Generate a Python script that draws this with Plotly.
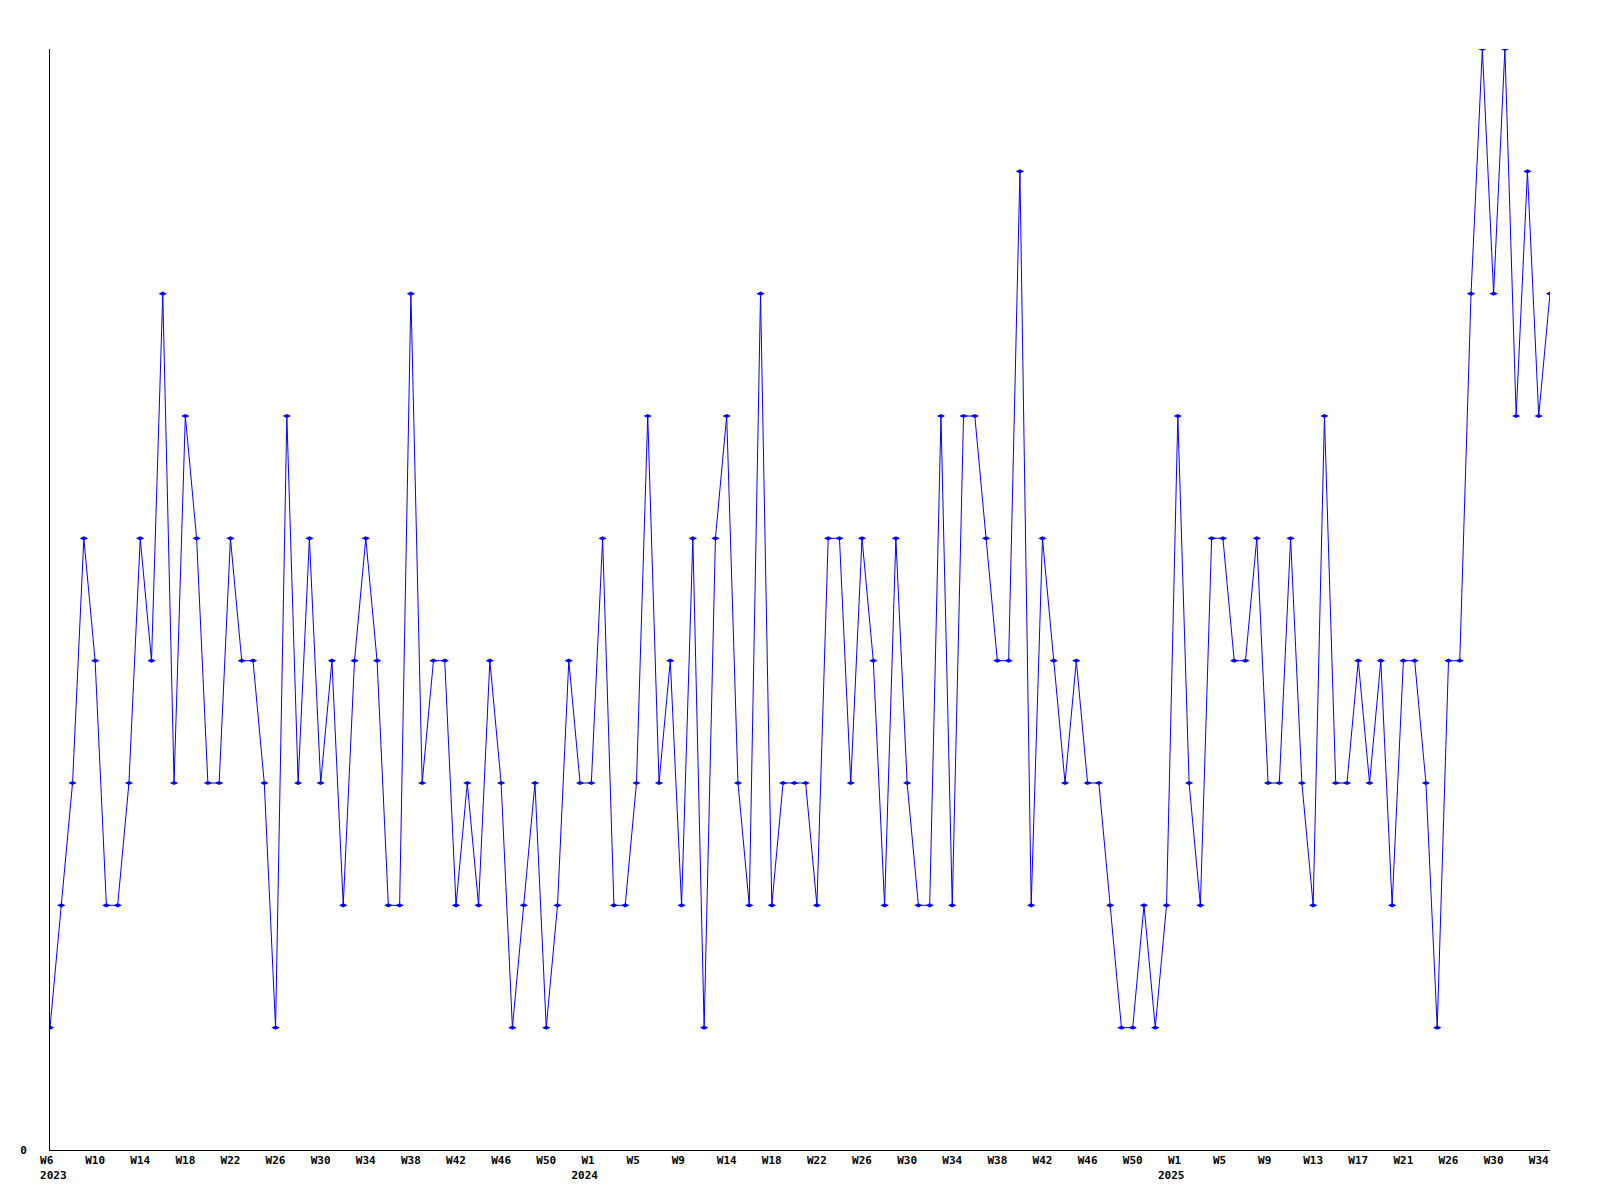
import plotly.graph_objects as go

# Weekly values, W6 2023 .. W35 2025
values = [
    1, 2, 3, 5, 4, 2, 2, 3, 5, 4, 7, 3, 6, 5, 3, 3, 5, 4,
    4, 3, 1, 6, 3, 5, 3, 4, 2, 4, 5, 4, 2, 2, 7, 3,
    4, 4, 2, 3, 2, 4, 3, 1, 2, 3, 1, 2, 4, 3, 3, 5, 2,
    2, 3, 6, 3, 4, 2, 5, 1, 5, 6, 3, 2, 7, 2, 3, 3, 3,
    2, 5, 5, 3, 5, 4, 2, 5, 3, 2, 2, 6, 2, 6, 6, 5, 4,
    4, 8, 2, 5, 4, 3, 4, 3, 3, 2, 1, 1, 2, 1, 2, 6, 3,
    2, 5, 5, 4, 4, 5, 3, 3, 5, 3, 2, 6, 3, 3, 4, 3, 4,
    2, 4, 4, 3, 1, 4, 4, 7, 9, 7, 9, 6, 8, 6, 7,
]

week_labels = [
    "W6", "W10", "W14", "W18", "W22", "W26", "W30", "W34", "W38", "W42", "W46", "W50",
    "W1", "W5", "W9", "W14", "W18", "W22", "W26", "W30", "W34", "W38", "W42", "W46", "W50",
    "W1", "W5", "W9", "W13", "W17", "W21", "W26", "W30", "W34",
]
year_labels = {0: "2023", 12: "2024", 25: "2025"}
tick_step = 4

x = list(range(len(values)))
tickvals = [i * tick_step for i in range(len(week_labels))]
NB = "\u00a0"
ticktext = []
for i, w in enumerate(week_labels):
    t = w + NB * (3 - len(w))
    if i in year_labels:
        if i == 0:
            t += "<br>" + NB + year_labels[i]
        else:
            t += "<br>" + year_labels[i] + NB * 2
    ticktext.append(t)

fig = go.Figure()
fig.add_trace(go.Scatter(
    x=x, y=values, mode="lines+markers",
    line=dict(color="#0000ff", width=1),
    marker=dict(color="#0000ff", size=6, symbol="diamond-wide"),
    hoverinfo="skip",
))

fig.update_layout(
    width=1600, height=1200,
    margin=dict(l=50, r=50, t=49, b=50),
    plot_bgcolor="white", paper_bgcolor="white",
    showlegend=False,
    font=dict(family="DejaVu Sans Mono", size=11, color="black", weight="bold"),
)
fig.update_xaxes(
    range=[0, len(values) - 1],
    tickmode="array", tickvals=tickvals, ticktext=ticktext,
    showgrid=False, zeroline=False, showline=True, linecolor="black", linewidth=1,
    ticks="", tickangle=0,
)
fig.update_yaxes(
    range=[0, 9],
    tickmode="array", tickvals=[0], ticktext=["0"],
    showgrid=False, zeroline=False, showline=True, linecolor="black", linewidth=1,
    ticks="", ticklabelstandoff=20,
)

fig.write_html("out.html", config={"displayModeBar": False},
               post_script="document.body.style.margin='0';")
